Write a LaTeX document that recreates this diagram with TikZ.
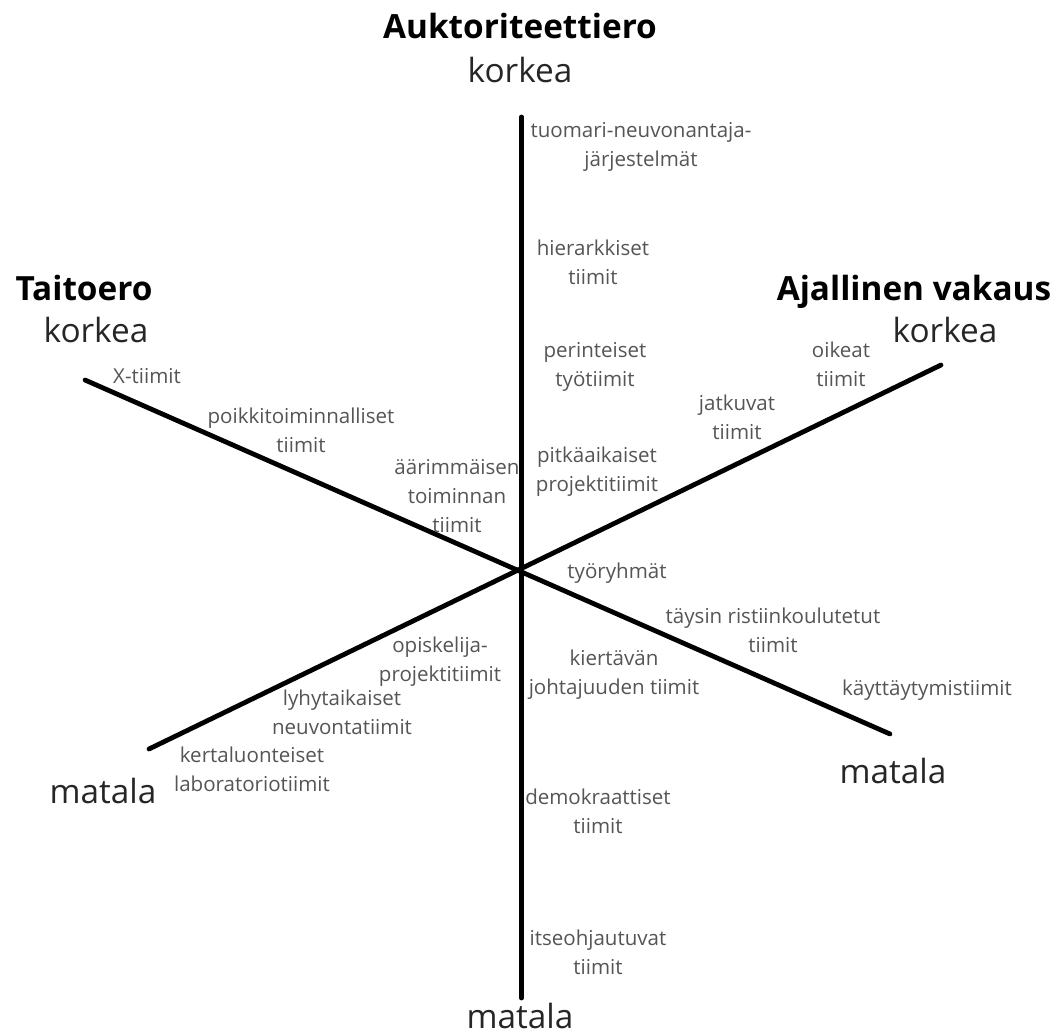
\documentclass[tikz,border=0pt]{standalone}
\usepackage{fontspec}
\setmainfont{Open Sans}
\definecolor{lblgray}{HTML}{555555}
\definecolor{bigtxt}{HTML}{262626}
\newcommand{\stk}[1]{\begin{tabular}[t]{@{}c@{}}#1\end{tabular}}
\begin{document}
\begin{tikzpicture}[x=0.75pt,y=-0.75pt,
  lbl/.style={font=\fontsize{15.4}{21.75}\selectfont, text=lblgray, anchor=base, inner sep=0pt},
  big/.style={font=\fontsize{25}{30}\selectfont, text=bigtxt, anchor=base, inner sep=0pt},
  ttl/.style={font=\bfseries\fontsize{25}{30}\selectfont, text=black, anchor=base, inner sep=0pt},
  axisline/.style={line width=3.6pt, line cap=round, draw=black}]
\useasboundingbox (0,0) rectangle (1060,1035);
% axis end points
\coordinate (vtop) at (521.5,117);
\coordinate (vbot) at (521.5,998);
\coordinate (tstart) at (85,380);
\coordinate (tend) at (890,734);
\coordinate (astart) at (149,749);
\coordinate (aend) at (941,365);
\draw[axisline] (vtop) -- (vbot);
\draw[axisline] (tstart) -- (tend);
\draw[axisline] (astart) -- (aend);
% titles
\node[ttl] (t1) at (520,38) {Auktoriteettiero};
\node[big] (k1) at (520,82) {korkea};
\node[ttl] (t2) at (84,300) {Taitoero};
\node[big] (k2) at (96,342) {korkea};
\node[ttl] (t3) at (914,300) {Ajallinen vakaus};
\node[big] (k3) at (945,342) {korkea};
\node[big] (m1) at (103,803) {matala};
\node[big] (m2) at (893,783) {matala};
\node[big] (m3) at (520,1028) {matala};
% labels
\node[lbl] (l1) at (641,137) {\stk{tuomari-neuvonantaja-\\järjestelmät}};
\node[lbl] (l2) at (593,255) {\stk{hierarkkiset\\tiimit}};
\node[lbl] (l3) at (595,357) {\stk{perinteiset\\työtiimit}};
\node[lbl] (l4) at (597,462) {\stk{pitkäaikaiset\\projektitiimit}};
\node[lbl] (l5) at (457,474) {\stk{äärimmäisen\\toiminnan\\tiimit}};
\node[lbl] (l6) at (301,423) {\stk{poikkitoiminnalliset\\tiimit}};
\node[lbl] (l7) at (147,383) {X-tiimit};
\node[lbl] (l8) at (841,357) {\stk{oikeat\\tiimit}};
\node[lbl] (l9) at (737,410) {\stk{jatkuvat\\tiimit}};
\node[lbl] (l10) at (617,578) {työryhmät};
\node[lbl] (l11) at (773,623) {\stk{täysin ristiinkoulutetut\\tiimit}};
\node[lbl] (l12) at (927,695) {käyttäytymistiimit};
\node[lbl] (l13) at (614,665) {\stk{kiertävän\\johtajuuden tiimit}};
\node[lbl] (l14) at (440,652) {\stk{opiskelija-\\projektitiimit}};
\node[lbl] (l15) at (342,705) {\stk{lyhytaikaiset\\neuvontatiimit}};
\node[lbl] (l16) at (252,762) {\stk{kertaluonteiset\\laboratoriotiimit}};
\node[lbl] (l17) at (598,804) {\stk{demokraattiset\\tiimit}};
\node[lbl] (l18) at (598,945) {\stk{itseohjautuvat\\tiimit}};
\end{tikzpicture}
\end{document}
